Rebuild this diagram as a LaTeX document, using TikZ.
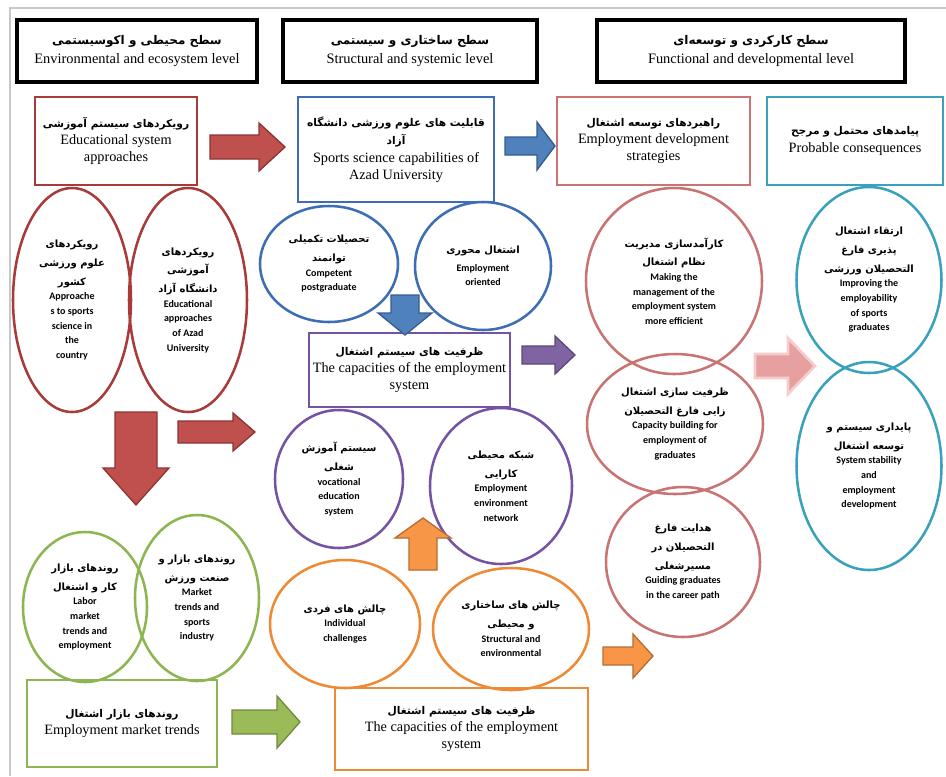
\documentclass[tikz,border=0pt]{standalone}
\usepackage{fontspec}
\setmainfont{Liberation Serif}
\newfontfamily\arfont[Script=Arabic]{DejaVu Sans}
\newfontfamily\cbfont{Carlito}
\TeXXeTstate=1
\newcommand\fa[1]{{\arfont\beginR #1\endR}}
\newcommand\fb[1]{{\arfont\bfseries\fontsize{8}{10}\selectfont\beginR #1\endR}}
\newcommand\fh[1]{{\arfont\bfseries\fontsize{9}{11}\selectfont\beginR #1\endR}}
\usetikzlibrary{shapes.geometric}
\definecolor{cred}{HTML}{A83A3A}
\definecolor{cblue}{HTML}{3D6DB5}
\definecolor{cpink}{HTML}{C97373}
\definecolor{cteal}{HTML}{3AA1BC}
\definecolor{cpurple}{HTML}{7452A4}
\definecolor{corange}{HTML}{EE8A36}
\definecolor{cgreen}{HTML}{8DB551}
\newcommand\RArrow[7]{\draw[#1] (#2,{#3-(#5)}) -- ({#2+(#4)-(#7)},{#3-(#5)}) -- ({#2+(#4)-(#7)},{#3-(#6)}) -- ({#2+(#4)},#3) -- ({#2+(#4)-(#7)},{#3+(#6)}) -- ({#2+(#4)-(#7)},{#3+(#5)}) -- (#2,{#3+(#5)}) -- cycle;}
\newcommand\VArrow[7]{\draw[#1] ({#2-(#5)},#3) -- ({#2-(#5)},{#3+(#4)-(#7)}) -- ({#2-(#6)},{#3+(#4)-(#7)}) -- (#2,{#3+(#4)}) -- ({#2+(#6)},{#3+(#4)-(#7)}) -- ({#2+(#5)},{#3+(#4)-(#7)}) -- ({#2+(#5)},#3) -- cycle;}
\tikzset{
  hdr/.style={draw=black, line width=2.6pt, align=center, inner sep=0pt, font=\fontsize{10.8}{14}\selectfont},
  bx/.style={line width=1.9pt, align=center, inner sep=0pt, font=\fontsize{10.7}{13}\selectfont},
  el/.style={ellipse, line width=1.9pt, align=center, inner sep=0pt, font=\cbfont\bfseries\fontsize{7.5}{11}\selectfont},
  arrbase/.style={line width=1pt, line join=miter},
  arR/.style={arrbase, fill={rgb,255:red,192;green,80;blue,77}, draw={rgb,255:red,140;green,52;blue,50}},
  arB/.style={arrbase, fill={rgb,255:red,79;green,129;blue,189}, draw={rgb,255:red,56;green,93;blue,138}},
  arP/.style={arrbase, fill={rgb,255:red,128;green,100;blue,162}, draw={rgb,255:red,92;green,71;blue,118}},
  arO/.style={arrbase, fill={rgb,255:red,247;green,150;blue,70}, draw={rgb,255:red,182;green,109;blue,49}},
  arG/.style={arrbase, fill={rgb,255:red,155;green,187;blue,89}, draw={rgb,255:red,113;green,137;blue,63}},
  arK/.style={arrbase, line width=2pt, fill={rgb,255:red,230;green,160;blue,160}, draw={rgb,255:red,245;green,205;blue,205}},
}
\begin{document}
\begin{tikzpicture}[x=0.75pt,y=-0.75pt]
\useasboundingbox (0,0) rectangle (946,776);
\fill[white] (0,0) rectangle (946,776);
\draw[black!22, line width=1.5pt] (10,776) -- (10,8) -- (946,8);

% headers
\node[hdr, minimum width=0.75*240pt, minimum height=0.75*62pt] (h1) at (137,51) {\fh{سطح محیطی و اکوسیستمی}\\Environmental and ecosystem level};
\node[hdr, minimum width=0.75*254pt, minimum height=0.75*62pt] (h2) at (410,51) {\fh{سطح ساختاری و سیستمی}\\Structural and systemic level};
\node[hdr, minimum width=0.75*308pt, minimum height=0.75*62pt] (h3) at (751,51) {\fh{سطح کارکردی و توسعه‌ای}\\Functional and developmental level};

% boxes
\node[bx, draw=cred, minimum width=0.75*162pt, minimum height=0.75*88pt] (b1) at (116,141) {\fb{رویکردهای سیستم آموزشی}\\Educational system\\approaches};
\node[bx, draw=cblue, minimum width=0.75*196pt, minimum height=0.75*105pt] (b2) at (396,149.5) {\fb{قابلیت های علوم ورزشی دانشگاه}\\[1pt]\fb{آزاد}\\Sports science capabilities of\\Azad University};
\node[bx, draw=cpink, minimum width=0.75*193pt, minimum height=0.75*88pt] (b3) at (653.5,141) {\fb{راهبردهای توسعه اشتغال}\\Employment development\\strategies};
\node[bx, draw=cteal, minimum width=0.75*176pt, minimum height=0.75*88pt] (b4) at (855,141) {\fb{پیامدهای محتمل و مرجح}\\Probable consequences};
\node[bx, draw=cpurple, minimum width=0.75*201pt, minimum height=0.75*74pt] (b5) at (409.5,370) {\fb{ظرفیت های سیستم اشتغال}\\The capacities of the employment\\system};
\node[bx, draw=cgreen, minimum width=0.75*190pt, minimum height=0.75*87pt] (b6) at (122,723.5) {\fb{روندهای بازار اشتغال}\\Employment market trends};
\node[bx, draw=corange, minimum width=0.75*253pt, minimum height=0.75*82pt] (b7) at (461.5,729) {\fb{ظرفیت های سیستم اشتغال}\\The capacities of the employment\\system};

% ellipses
\node[el, draw=cred, minimum width=0.75*118pt, minimum height=0.75*224pt] (e1) at (72,300) {\fa{رویکردهای}\\[3pt]\fa{علوم ورزشی}\\[3pt]\fa{کشور}\\Approache\\s to sports\\science in\\the\\country};
\node[el, draw=cred, minimum width=0.75*118pt, minimum height=0.75*224pt] (e2) at (188,300) {\fa{رویکردهای}\\[3pt]\fa{آموزشی}\\[3pt]\fa{دانشگاه آزاد}\\Educational\\approaches\\of Azad\\University};
\node[el, draw=cblue, minimum width=0.75*138pt, minimum height=0.75*116pt] (e3) at (329,264) {\fa{تحصیلات تکمیلی}\\[3pt]\fa{توانمند}\\Competent\\postgraduate};
\node[el, draw=cblue, minimum width=0.75*136pt, minimum height=0.75*128pt] (e4) at (483,266) {\fa{اشتغال محوری}\\[2pt]Employment\\oriented};
\node[el, draw=cpurple, minimum width=0.75*128pt, minimum height=0.75*138pt] (e5) at (339,479) {\fa{سیستم آموزش}\\[3pt]\fa{شغلی}\\vocational\\education\\system};
\node[el, draw=cpurple, minimum width=0.75*142pt, minimum height=0.75*156pt] (e6) at (501,486) {\fa{شبکه محیطی}\\[3pt]\fa{کارایی}\\Employment\\environment\\network};
\node[el, draw=corange, minimum width=0.75*150pt, minimum height=0.75*128pt] (e7) at (345,624) {\fa{چالش های فردی}\\Individual\\challenges};
\node[el, draw=corange, minimum width=0.75*156pt, minimum height=0.75*122pt] (e8) at (511,629) {\fa{چالش های ساختاری}\\[3pt]\fa{و محیطی}\\Structural and\\environmental};
\node[el, draw=cgreen, minimum width=0.75*124pt, minimum height=0.75*150pt] (e9) at (85,607) {\fa{روندهای بازار}\\[3pt]\fa{کار و اشتغال}\\Labor\\market\\trends and\\employment};
\node[el, draw=cgreen, minimum width=0.75*124pt, minimum height=0.75*166pt] (e10) at (197,598) {\fa{روندهای بازار و}\\[3pt]\fa{صنعت ورزش}\\Market\\trends and\\sports\\industry};
\node[el, draw=cpink, minimum width=0.75*176pt, minimum height=0.75*186pt] (e11) at (674,281) {\fa{کارآمدسازی مدیریت}\\[3pt]\fa{نظام اشتغال}\\Making the\\management of the\\employment system\\more efficient};
\node[el, draw=cpink, minimum width=0.75*176pt, minimum height=0.75*140pt] (e12) at (675,424) {\fa{ظرفیت سازی اشتغال}\\[3pt]\fa{زایی فارغ التحصیلان}\\Capacity building for\\employment of\\graduates};
\node[el, draw=cpink, minimum width=0.75*154pt, minimum height=0.75*150pt] (e13) at (683,562) {\fa{هدایت فارغ}\\[3pt]\fa{التحصیلان در}\\[3pt]\fa{مسیرشغلی}\\Guiding graduates\\in the career path};
\node[el, draw=cteal, minimum width=0.75*145pt, minimum height=0.75*186pt] (e14) at (869,280) {\fa{ارتقاء اشتغال}\\[3pt]\fa{پذیری فارغ}\\[3pt]\fa{التحصیلان ورزشی}\\Improving the\\employability\\of sports\\graduates};
\node[el, draw=cteal, minimum width=0.75*145pt, minimum height=0.75*208pt] (e15) at (869,466) {\fa{پایداری سیستم و}\\[3pt]\fa{توسعه اشتغال}\\System stability\\and\\employment\\development};

% block arrows
\RArrow{arR}{210}{147}{75}{12}{24}{26}
\RArrow{arB}{505}{146}{50}{9}{24}{18}
\RArrow{arR}{178}{432}{77}{11}{19}{22}
\VArrow{arR}{136}{412}{93}{21}{33}{37}
\VArrow{arB}{405}{295}{40}{14}{27}{22}
\RArrow{arP}{522}{355}{53}{9}{19}{20}
\RArrow{arK}{755}{366}{60}{12}{28}{27}
\VArrow{arO}{423}{570}{-52}{14}{28}{-20}
\RArrow{arO}{603}{656}{50}{9}{22}{20}
\RArrow{arG}{232}{722}{68}{12}{26}{23}
\end{tikzpicture}
\end{document}
